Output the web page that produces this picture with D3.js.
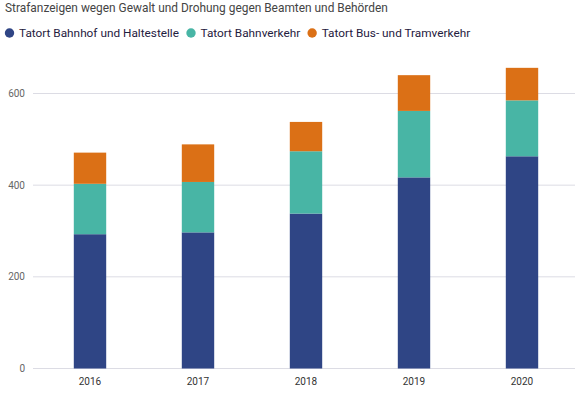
<!DOCTYPE html>
<html>
<head>
<meta charset="utf-8">
<script src="https://cdn.jsdelivr.net/npm/d3@7"></script>
<style>
  body { margin: 0; background: #fff; }
  svg { font-family: "Roboto", "Liberation Sans", sans-serif; display: block; }
</style>
</head>
<body>
<svg id="chart" width="582" height="397"></svg>
<script>
// Daten
var years = ["2016", "2017", "2018", "2019", "2020"];
var bahnhof = [293, 297, 338, 417, 463];
var bahnverkehr = [110, 110, 136, 145, 122];
var busTram = [68, 82, 64, 78, 71];
var yTicks = [0, 200, 400, 600];

var seriesNames = ["Tatort Bahnhof und Haltestelle", "Tatort Bahnverkehr", "Tatort Bus- und Tramverkehr"];
var colors = ["#2f4585", "#48b5a5", "#db7016"];

var svg = d3.select("#chart");

// Tabelle für stack
var rows = years.map(function (y, i) {
  return { year: y, a: bahnhof[i], b: bahnverkehr[i], c: busTram[i] };
});
var stacked = d3.stack().keys(["a", "b", "c"])(rows);

var x = d3.scaleBand()
  .domain(years)
  .range([36, 576])
  .paddingInner(0.7)
  .paddingOuter(0.35);

var y = d3.scaleLinear()
  .domain([0, 600])
  .range([368.5, 93.5]);

// Titel
svg.append("text")
  .attr("x", 5)
  .attr("y", 12)
  .attr("font-size", 11.9)
  .attr("fill", "#444")
  .text("Strafanzeigen wegen Gewalt und Drohung gegen Beamten und Behörden");

// Legende: Einträge hintereinander, Abstand aus Textbreite
var cx = 9.5;
seriesNames.forEach(function (name, i) {
  var g = svg.append("g")
    .attr("class", "legend")
    .attr("transform", "translate(" + cx + ",33)");
  g.append("circle")
    .attr("r", 4.7)
    .attr("fill", colors[i]);
  var t = g.append("text")
    .attr("x", 9.5)
    .attr("y", 4.2)
    .attr("font-size", 11.8)
    .attr("fill", "#1f2040")
    .text(name);
  cx += 9.5 + t.node().getComputedTextLength() + 12;
});

// Gitterlinien
svg.selectAll("line.grid")
  .data(yTicks)
  .enter().append("line")
  .attr("class", "grid")
  .attr("x1", 33)
  .attr("x2", 575)
  .attr("y1", function (d) { return y(d); })
  .attr("y2", function (d) { return y(d); })
  .attr("stroke", "#dcdce4")
  .attr("stroke-width", 1);

// y-Achse
svg.selectAll("text.ytick")
  .data(yTicks)
  .enter().append("text")
  .attr("class", "ytick")
  .attr("x", 25)
  .attr("y", function (d) { return y(d) + 3.5; })
  .attr("text-anchor", "end")
  .attr("font-size", 10)
  .attr("fill", "#666")
  .text(function (d) { return d; });

// Balken
svg.selectAll("g.series")
  .data(stacked)
  .enter().append("g")
  .attr("class", "series")
  .attr("fill", function (d, i) { return colors[i]; })
  .selectAll("rect")
  .data(function (d) { return d; })
  .enter().append("rect")
  .attr("x", function (d) { return x(d.data.year); })
  .attr("width", x.bandwidth())
  .attr("y", function (d) { return y(d[1]); })
  .attr("height", function (d) { return y(d[0]) - y(d[1]); });

// x-Achse
svg.selectAll("text.xtick")
  .data(years)
  .enter().append("text")
  .attr("class", "xtick")
  .attr("x", function (d) { return x(d) + x.bandwidth() / 2; })
  .attr("y", 385)
  .attr("text-anchor", "middle")
  .attr("font-size", 10)
  .attr("fill", "#333")
  .text(function (d) { return d; });
</script>
</body>
</html>
